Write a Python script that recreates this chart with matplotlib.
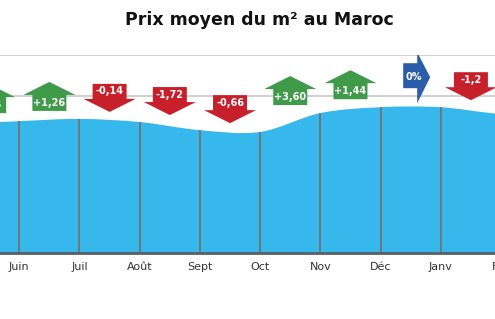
import matplotlib
matplotlib.use('Agg')
import matplotlib.pyplot as plt
from matplotlib.path import Path
from matplotlib.patches import PathPatch, Polygon
from matplotlib import transforms
from matplotlib import font_manager as fm

# ---------------- data ----------------
months = ["Mai", "Juin", "Juil", "Août", "Sept", "Oct", "Nov", "Déc", "Janv", "Fév"]
prices = [10970, 11030, 11080, 11010, 10830, 10790, 11210, 11340, 11340, 11190]
changes = [0.5, 1.26, -0.14, -1.72, -0.66, 3.60, 1.44, 0.0, -1.2]
change_labels = ["+0,5", "+1,26", "-0,14", "-1,72", "-0,66", "+3,60", "+1,44", "0%", "-1,2"]
title = "Prix moyen du m² au Maroc"

# ---------------- styles ----------------
AREA = '#37b8ec'
VLINE = '#6e7880'
BASE = '#56606a'
GRID = '#c8c8c8'
GREEN = '#3f9a4a'
RED = '#c8202a'
BLUE = '#2a5caa'

names = {f.name for f in fm.fontManager.ttflist}
narrow = 'Liberation Sans Narrow' if 'Liberation Sans Narrow' in names else 'DejaVu Sans'
lab_size = 9 if narrow != 'DejaVu Sans' else 7

fig = plt.figure(figsize=(4.95, 3.19), dpi=100)
ax = fig.add_axes([0, 66 / 319, 1, 198 / 319])
ax.set_xlim(0.68, 8.9)
ax.set_ylim(8100, 12500)
for s in ax.spines.values():
    s.set_visible(False)
ax.set_xticks([])
ax.set_yticks([11600, 12500])
ax.tick_params(left=False, labelleft=False)
ax.yaxis.grid(True, color=GRID, lw=1.2)
ax.set_axisbelow(True)

# smooth area (Catmull-Rom as cubic Bezier)
x = list(range(len(prices)))
y0 = ax.get_ylim()[0]
n = len(prices)
verts = [(x[0], y0), (x[0], prices[0])]
codes = [Path.MOVETO, Path.LINETO]
for i in range(n - 1):
    pm = prices[i - 1] if i > 0 else prices[i]
    p2 = prices[i + 2] if i + 2 < n else prices[i + 1]
    c1 = (x[i] + 1 / 3, prices[i] + (prices[i + 1] - pm) / 6)
    c2 = (x[i + 1] - 1 / 3, prices[i + 1] - (p2 - prices[i]) / 6)
    verts += [c1, c2, (x[i + 1], prices[i + 1])]
    codes += [Path.CURVE4] * 3
verts += [(x[-1], y0), (x[0], y0)]
codes += [Path.LINETO, Path.CLOSEPOLY]
ax.add_patch(PathPatch(Path(verts, codes), facecolor=AREA, edgecolor='none', zorder=2))

ax.vlines(x, y0, prices, color=VLINE, lw=1.5, zorder=3)
ax.axhline(y0, color=BASE, lw=2, zorder=4, clip_on=False)

# month labels (only those inside the visible range)
lab_tr = transforms.offset_copy(ax.transData, fig=fig, y=-14, units='dots')
xmin, xmax = ax.get_xlim()
for xi, m in zip(x, months):
    if xi < xmin - 0.3:
        continue
    ax.text(xi, y0, m, transform=lab_tr, ha='center', va='center',
            fontsize=8, color='#333333', clip_on=False)

# arrows (shapes in pixels, anchored at the higher neighbour value)
up_shape = [(-17, 8), (17, 8), (17, 24), (26, 24), (0, 37), (-26, 24), (-17, 24)]
down_shape = [(-17, 35), (17, 35), (17, 20), (26, 20), (0, 7), (-26, 20), (-17, 20)]
flat_shape = [(-7.5, 19), (6.5, 19), (6.5, 4), (19.5, 30), (6.5, 55), (6.5, 44), (-7.5, 44)]

for i, (c, lab) in enumerate(zip(changes, change_labels)):
    xa = x[i] + 0.5
    ya = max(prices[i], prices[i + 1])
    tr = fig.dpi_scale_trans + transforms.ScaledTranslation(xa, ya, ax.transData)
    if c > 0:
        shape, col, tpos = up_shape, GREEN, (0, 16)
    elif c < 0:
        shape, col, tpos = down_shape, RED, (0, 27.5)
    else:
        shape, col, tpos = flat_shape, BLUE, (3, 30)
    poly = Polygon([(px / 100, py / 100) for px, py in shape], closed=True,
                   facecolor=col, edgecolor='none', transform=tr, zorder=5)
    ax.add_patch(poly)
    ax.text(tpos[0] / 100, tpos[1] / 100, lab, transform=tr, ha='center', va='center',
            color='white', fontweight='bold', fontsize=lab_size, family=narrow,
            zorder=6, clip_on=True)

fig.text(259 / 495, 1 - 20 / 319, title, ha='center', va='center',
         fontsize=12.5, fontweight='bold', color='#111111')

fig.savefig('out.png', dpi=100)
